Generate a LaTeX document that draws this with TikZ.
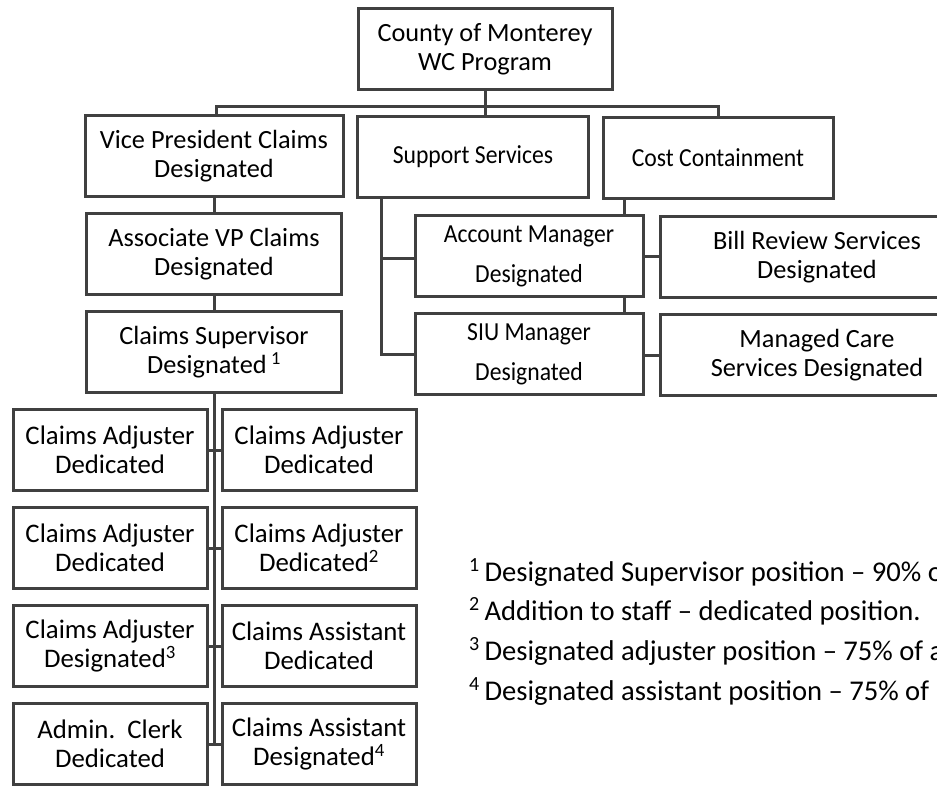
\documentclass[tikz,border=0pt]{standalone}
\usepackage{fontspec}
\setmainfont{Carlito}
\newfontfamily\narrowfont[FakeStretch=0.91]{Carlito}
\usetikzlibrary{backgrounds}

\begin{document}
\begin{tikzpicture}[x=1pt, y=-1pt]
\useasboundingbox (0,0) rectangle (937,786);
\clip (0,0) rectangle (937,786);

\tikzset{every node/.style={inner sep=0pt, align=center, text=black}}
\tikzset{boxstyle/.style={draw=gray!50!black, line width=3pt, fill=white,
    minimum height=81pt, font=\fontsize{26.3}{29}\selectfont}}
\tikzset{smallbox/.style={boxstyle, font=\narrowfont\fontsize{26}{40}\selectfont}}
\tikzset{lowbox/.style={boxstyle, minimum width=194pt, font=\fontsize{26.8}{29}\selectfont}}
\tikzset{notestyle/.style={anchor=base west, font=\fontsize{28.6}{30}\selectfont}}
\tikzset{mystyle/.style={draw=gray!50!black, line width=3pt}}

% top
\node[boxstyle, minimum width=254pt] (county) at (485, 49) {County of Monterey\\WC Program};
\node[boxstyle, minimum width=258pt] (vp) at (214, 156) {Vice President Claims\\Designated};
\node[smallbox, minimum width=231pt] (support) at (473, 157) {Support Services};
\node[smallbox, minimum width=230pt] (cost) at (718, 158) {Cost Containment};

% claims side
\node[boxstyle, minimum width=255pt] (assoc) at (214, 254) {Associate VP Claims\\Designated};
\node[boxstyle, minimum width=255pt] (superv) at (214, 352) {Claims Supervisor\\Designated\,\textsuperscript{1}};

% support and cost side
\node[smallbox, minimum width=228pt] (account) at (529, 256) {Account Manager\\Designated};
\node[smallbox, minimum width=228pt] (siu) at (529, 354) {SIU Manager\\Designated};
\node[boxstyle, minimum width=314pt] (bill) at (817, 257) {Bill Review Services\\Designated};
\node[boxstyle, minimum width=314pt] (managed) at (817, 355) {Managed Care\\Services Designated};

% staff
\node[lowbox] (left1) at (110, 450) {Claims Adjuster\\Dedicated};
\node[lowbox] (left2) at (110, 548) {Claims Adjuster\\Dedicated};
\node[lowbox] (left3) at (110, 646) {Claims Adjuster\\Designated\textsuperscript{3}};
\node[lowbox] (left4) at (110, 744) {Admin.~~Clerk\\Dedicated};
\node[lowbox] (right1) at (319, 450) {Claims Adjuster\\Dedicated};
\node[lowbox] (right2) at (319, 548) {Claims Adjuster\\Dedicated\textsuperscript{2}};
\node[lowbox] (right3) at (319, 646) {Claims Assistant\\Dedicated};
\node[lowbox] (right4) at (319, 744) {Claims Assistant\\Designated\textsuperscript{4}};

% notes
\node[notestyle] (note1) at (469, 581) {\textsuperscript{1}\,Designated Supervisor position -- 90\% of};
\node[notestyle] (note2) at (469, 620) {\textsuperscript{2}\,Addition to staff -- dedicated position.};
\node[notestyle] (note3) at (469, 660) {\textsuperscript{3}\,Designated adjuster position -- 75\% of a};
\node[notestyle] (note4) at (469, 700) {\textsuperscript{4}\,Designated assistant position -- 75\% of};

\begin{scope}[on background layer]
\coordinate (bus) at (485, 107);
\draw[mystyle] ([xshift=2pt]vp.north) |- (bus) -| (cost.north);
\draw[mystyle] (county.south) -- (county.south |- support.north);
\path (vp) edge [mystyle] (assoc);
\path (assoc) edge [mystyle] (superv);
\draw[mystyle] (superv.south) -- (superv.south |- left4.east);
\foreach \i in {1,...,4}
  \path (left\i.east) edge [mystyle] (right\i.west);
\draw[mystyle] ([xshift=25pt]support.south west) |- ([yshift=-3pt]account.west);
\draw[mystyle] ([xshift=25pt]support.south west) |- (siu.west);
\draw[mystyle] ([xshift=23pt]cost.south west) |- (managed.west);
\draw[mystyle] ([xshift=23pt]cost.south west) |- (bill.west);
\end{scope}
\end{tikzpicture}
\end{document}
